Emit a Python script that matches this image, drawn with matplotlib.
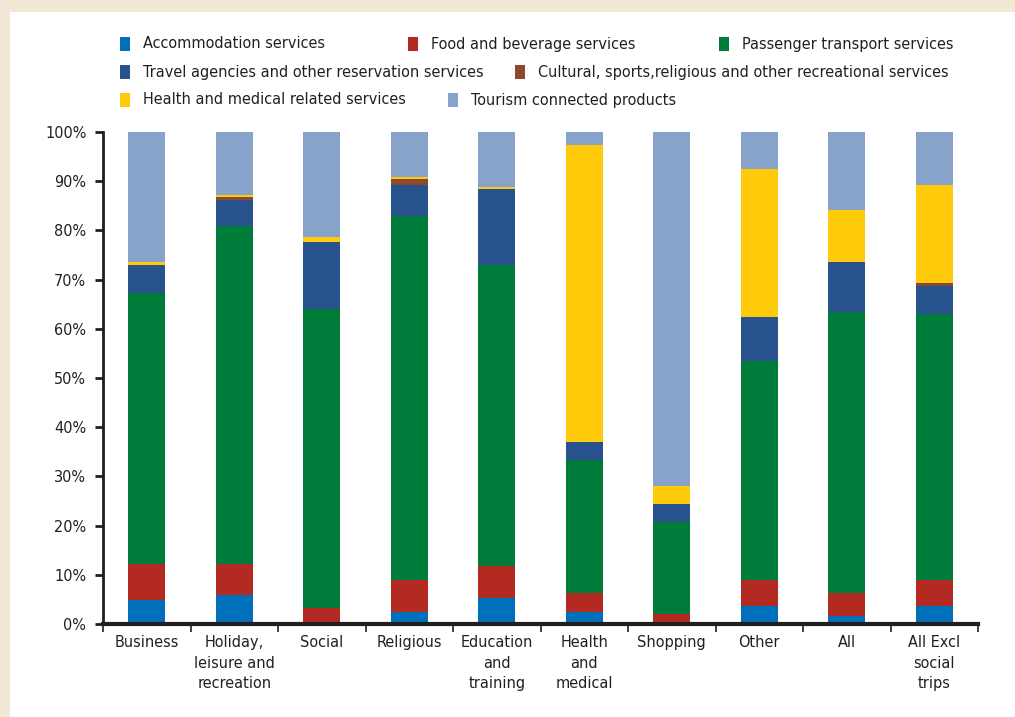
import matplotlib.pyplot as plt
import numpy as np
from matplotlib.patches import Rectangle
from matplotlib import font_manager

categories = ["Business", "Holiday,\nleisure and\nrecreation", "Social", "Religious",
              "Education\nand\ntraining", "Health\nand\nmedical", "Shopping", "Other",
              "All", "All Excl\nsocial\ntrips"]

# shares in %
accommodation = [4.9, 5.8, 0.0, 2.5, 5.2, 2.5, 0.5, 3.7, 1.6, 3.7]
food_beverage = [7.2, 6.3, 3.2, 6.4, 6.5, 3.9, 1.5, 5.2, 4.8, 5.2]
passenger_transport = [55.1, 68.8, 60.8, 74.0, 61.2, 26.9, 18.7, 44.5, 57.0, 54.1]
travel_agencies = [5.7, 5.3, 13.6, 6.3, 15.5, 3.7, 3.7, 8.9, 10.1, 5.7]
cultural = [0.0, 0.6, 0.0, 1.2, 0.0, 0.0, 0.0, 0.0, 0.0, 0.6]
health_medical = [0.6, 0.4, 1.0, 0.4, 0.4, 60.4, 3.6, 30.2, 10.6, 19.9]
tourism_products = [26.5, 12.8, 21.4, 9.2, 11.2, 2.6, 72.0, 7.5, 15.9, 10.8]

series = [
    ("Accommodation services", accommodation, "#0070ba"),
    ("Food and beverage services", food_beverage, "#b22a22"),
    ("Passenger transport services", passenger_transport, "#007c3a"),
    ("Travel agencies and other reservation services", travel_agencies, "#27528e"),
    ("Cultural, sports,religious and other recreational services", cultural, "#8b4a2b"),
    ("Health and medical related services", health_medical, "#ffca0a"),
    ("Tourism connected products", tourism_products, "#87a3c9"),
]

names = {f.name for f in font_manager.fontManager.ttflist}
if "Liberation Sans Narrow" in names:
    plt.rcParams['font.family'] = ['Liberation Sans Narrow', 'DejaVu Sans']
    fs = 12.5
else:
    plt.rcParams['font.family'] = ['DejaVu Sans']
    plt.rcParams['font.stretch'] = 'condensed'
    fs = 11.6
txt_color = "#231f20"

fig = plt.figure(figsize=(10.15, 7.17), dpi=100)
fig.patch.set_facecolor("#f3e8d5")
# white panel
panel = Rectangle((10 / 1015, 0), 1, 1 - 12 / 717, transform=fig.transFigure,
                  facecolor="white", edgecolor="none", zorder=-10)
fig.add_artist(panel)

ax = fig.add_axes([103 / 1015, 93 / 717, 875 / 1015, 492 / 717])
ax.set_facecolor("white")

x = np.arange(len(categories))
bottom = np.zeros(len(categories))
for name, vals, col in series:
    ax.bar(x, vals, width=0.42, bottom=bottom, color=col, label=name, zorder=2)
    bottom += np.array(vals)

ax.set_xlim(-0.5, len(categories) - 0.5)
ax.set_ylim(0, 100)
ax.set_yticks(np.arange(0, 101, 10))
ax.set_yticklabels([f"{v}%" for v in range(0, 101, 10)], fontsize=fs, color=txt_color)

ax.set_xticks(np.arange(-0.5, len(categories), 1.0))
ax.set_xticklabels([])
ax.set_xticks(x, minor=True)
ax.set_xticklabels(categories, minor=True, fontsize=fs, color=txt_color, linespacing=1.45)
ax.tick_params(axis="x", which="minor", length=0, pad=8)
ax.tick_params(axis="x", which="major", length=6, width=1.2, color=txt_color)
ax.tick_params(axis="y", length=6, width=2, color=txt_color, pad=6)

for s in ["top", "right"]:
    ax.spines[s].set_visible(False)
ax.spines["left"].set_linewidth(2)
ax.spines["left"].set_color(txt_color)
ax.spines["bottom"].set_linewidth(3)
ax.spines["bottom"].set_color(txt_color)

# legend, laid out as in the original
legend_pos = [(120, 44), (408, 44), (719, 44),
              (120, 72), (515, 72),
              (120, 100), (448, 100)]
for (name, vals, col), (px, py) in zip(series, legend_pos):
    fig.add_artist(Rectangle((px / 1015, 1 - (py + 7) / 717), 10 / 1015, 14 / 717,
                             transform=fig.transFigure, facecolor=col, edgecolor="none"))
    fig.text((px + 23) / 1015, 1 - py / 717, name, fontsize=fs, color=txt_color,
             va="center", ha="left")

fig.savefig("out.png", dpi=100, facecolor=fig.get_facecolor())
